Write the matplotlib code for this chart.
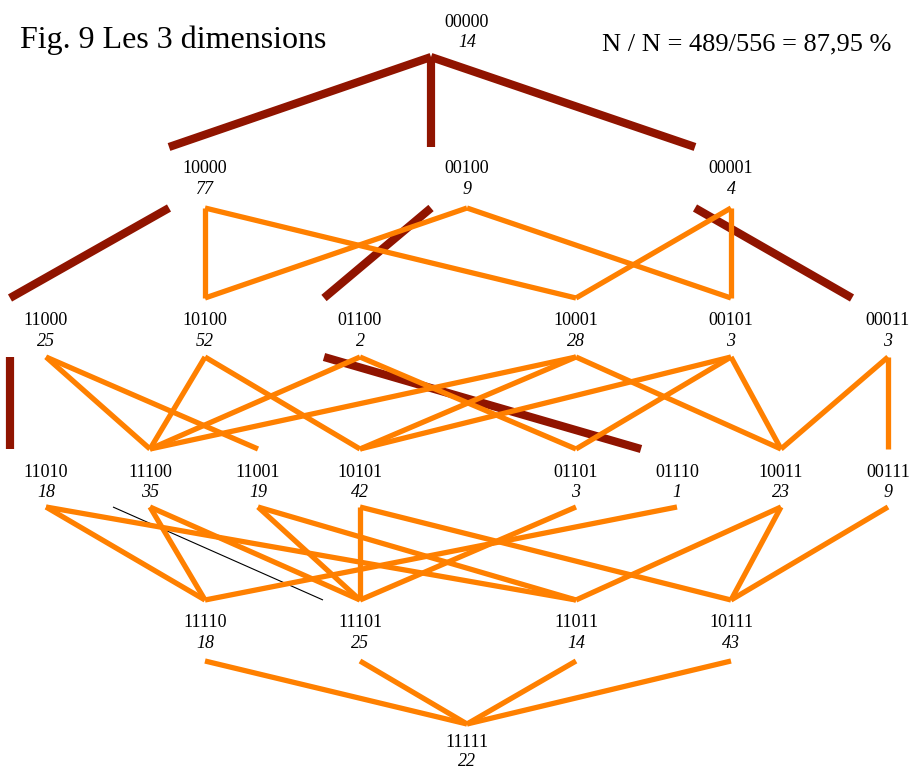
from __future__ import annotations

import matplotlib

matplotlib.use("Agg")
import matplotlib.pyplot as plt

# Node codes and their counts
codes = [
    "00000",
    "10000", "00100", "00001",
    "11000", "10100", "01100", "10001", "00101", "00011",
    "11010", "11100", "11001", "10101", "01101", "01110", "10011", "00111",
    "11110", "11101", "11011", "10111",
    "11111",
]
counts = [
    14,
    77, 9, 4,
    25, 52, 2, 28, 3, 3,
    18, 35, 19, 42, 3, 1, 23, 9,
    18, 25, 14, 43,
    22,
]

# Links between codes: (upper, lower, kind)
links = [
    ("00000", "10000", "strong"), ("00000", "00100", "strong"), ("00000", "00001", "strong"),
    ("10000", "11000", "strong"), ("10000", "10100", "normal"), ("10000", "10001", "normal"),
    ("00100", "10100", "normal"), ("00100", "01100", "strong"), ("00100", "00101", "normal"),
    ("00001", "10001", "normal"), ("00001", "00101", "normal"), ("00001", "00011", "strong"),
    ("11000", "11010", "strong"), ("11000", "11100", "normal"), ("11000", "11001", "normal"),
    ("10100", "11100", "normal"), ("10100", "10101", "normal"),
    ("01100", "11100", "normal"), ("01100", "01101", "normal"), ("01100", "01110", "strong"),
    ("10001", "11100", "normal"), ("10001", "10101", "normal"), ("10001", "10011", "normal"),
    ("00101", "10101", "normal"), ("00101", "01101", "normal"), ("00101", "10011", "normal"),
    ("00011", "10011", "normal"), ("00011", "00111", "normal"),
    ("11010", "11110", "normal"), ("11010", "11011", "normal"),
    ("11100", "11110", "normal"), ("11100", "11101", "normal"), ("11100", "11101", "thin"),
    ("11001", "11101", "normal"), ("11001", "11011", "normal"),
    ("10101", "11101", "normal"), ("10101", "10111", "normal"),
    ("01101", "11101", "normal"),
    ("01110", "11110", "normal"),
    ("10011", "11011", "normal"), ("10011", "10111", "normal"),
    ("00111", "10111", "normal"),
    ("11110", "11111", "normal"), ("11101", "11111", "normal"),
    ("11011", "11111", "normal"), ("10111", "11111", "normal"),
]

title = "Fig. 9 Les 3 dimensions"
ratio_text = "N / N = 489/556 = 87,95 %"

# Layout (pixels): horizontal slot of each node, rows by number of ones
node_x = {
    "00000": 467,
    "10000": 205, "00100": 467, "00001": 731,
    "11000": 46, "10100": 205, "01100": 360, "10001": 576, "00101": 731, "00011": 888,
    "11010": 46, "11100": 150, "11001": 258, "10101": 360, "01101": 576,
    "01110": 677, "10011": 781, "00111": 888,
    "11110": 205, "11101": 360, "11011": 576, "10111": 731,
    "11111": 467,
}
code_base = [27, 173, 325, 477, 627, 747]
count_base = [47, 194, 346, 497, 648, 766]
link_top = [None, 147, 298, 449, 600, 724]
link_bottom = [57, 208, 357, 507, 661, None]

STYLES = {
    "strong": dict(color="#901400", lw=5.9, shift=-36, z=1),
    "thin": dict(color="black", lw=0.8, shift=-37, z=2),
    "normal": dict(color="#FF8000", lw=3.8, shift=0, z=3),
}

_PLOT_CONTEXT = {
    "figure.figsize": (9.16, 7.71),
    "figure.dpi": 100,
    "savefig.dpi": 100,
    "font.family": ["Liberation Serif", "DejaVu Serif"],
}


def level(code: str) -> int:
    return code.count("1")


with plt.rc_context(_PLOT_CONTEXT):
    fig = plt.figure()
    ax = fig.add_axes([0, 0, 1, 1])
    ax.set_xlim(0, 916)
    ax.set_ylim(771, 0)
    ax.axis("off")

    # Links
    for upper, lower, kind in links:
        st = STYLES[kind]
        x0 = node_x[upper] + st["shift"]
        x1 = node_x[lower] + st["shift"]
        y0 = link_bottom[level(upper)]
        y1 = link_top[level(lower)]
        ax.plot([x0, x1], [y0, y1], color=st["color"], lw=st["lw"],
                solid_capstyle="butt", zorder=st["z"])

    # Node labels
    for code, n in zip(codes, counts):
        k = level(code)
        ax.text(node_x[code], code_base[k], code, ha="center", va="baseline",
                fontsize=13, zorder=5)
        ax.text(node_x[code], count_base[k], str(n), ha="center", va="baseline",
                fontsize=13, style="italic", zorder=5)

    # Title and ratio
    ax.text(20, 48, title, ha="left", va="baseline", fontsize=23)
    ax.text(891, 50, ratio_text, ha="right", va="baseline", fontsize=19)

    fig.savefig("out.png", dpi=100)
